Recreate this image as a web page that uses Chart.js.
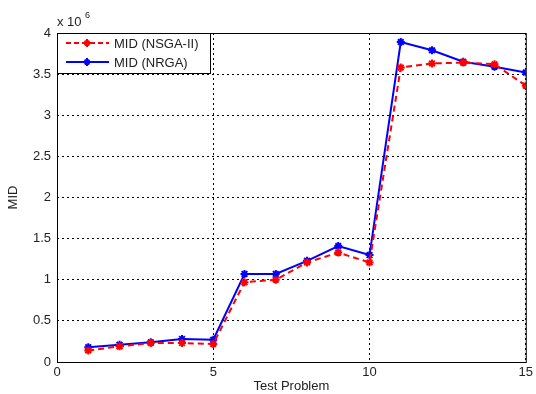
<!DOCTYPE html>
<html>
<head>
<meta charset="utf-8">
<script src="https://cdn.jsdelivr.net/npm/chart.js@4"></script>
<style>
  html, body { margin: 0; padding: 0; background: #fff; }
  #wrap { width: 536px; height: 394px; }
</style>
</head>
<body>
<div id="wrap"><canvas id="midChart" width="536" height="394"></canvas></div>
<script>
// values in units of 1e6
const problems = [1, 2, 3, 4, 5, 6, 7, 8, 9, 10, 11, 12, 13, 14, 15];
const midNsga = [0.14, 0.19, 0.23, 0.23, 0.22, 0.97, 1.00, 1.21, 1.33, 1.21, 3.58, 3.63, 3.64, 3.62, 3.36];
const midNrga = [0.18, 0.21, 0.24, 0.28, 0.27, 1.07, 1.07, 1.23, 1.41, 1.30, 3.89, 3.79, 3.65, 3.59, 3.52];
const xTicks = [0, 5, 10, 15];
const yTicks = [0, 0.5, 1, 1.5, 2, 2.5, 3, 3.5, 4];

const FONT = 'Liberation Sans, Arial, sans-serif';

function drawStar(ctx, x, y, r) {
    ctx.beginPath();
    ctx.moveTo(x - r, y); ctx.lineTo(x + r, y);
    ctx.moveTo(x, y - r); ctx.lineTo(x, y + r);
    const d = r * 0.6;
    ctx.moveTo(x - d, y - d); ctx.lineTo(x + d, y + d);
    ctx.moveTo(x - d, y + d); ctx.lineTo(x + d, y - d);
    ctx.stroke();
}

// frame, exponent label and legend box
const framePlugin = {
    id: 'frame',
    afterDraw(chart) {
        const { ctx, chartArea: a } = chart;
        ctx.save();
        ctx.strokeStyle = '#000';
        ctx.lineWidth = 1;
        ctx.strokeRect(a.left + 0.5, a.top + 0.5, a.right - a.left, a.bottom - a.top);

        ctx.fillStyle = '#222';
        ctx.font = '13px ' + FONT;
        ctx.textBaseline = 'alphabetic';
        ctx.fillText('x 10', a.left, a.top - 7);
        ctx.font = '9px ' + FONT;
        ctx.fillText('6', a.left + 28, a.top - 15);

        // legend
        const lx = a.left, ly = a.top, lw = 153, lh = 40;
        ctx.fillStyle = '#fff';
        ctx.fillRect(lx, ly, lw, lh);
        ctx.strokeStyle = '#000';
        ctx.strokeRect(lx + 0.5, ly + 0.5, lw, lh);
        const items = [
            { label: 'MID (NSGA-II)', color: '#ff0000', dash: [5, 3] },
            { label: 'MID (NRGA)', color: '#0000ff', dash: [] }
        ];
        items.forEach((it, i) => {
            const y = ly + 10 + i * 19;
            ctx.strokeStyle = it.color;
            ctx.lineWidth = 2;
            ctx.setLineDash(it.dash);
            ctx.beginPath();
            ctx.moveTo(lx + 9, y);
            ctx.lineTo(lx + 52, y);
            ctx.stroke();
            ctx.setLineDash([]);
            drawStar(ctx, lx + 30, y, 4);
            ctx.fillStyle = '#222';
            ctx.font = '13px ' + FONT;
            ctx.textBaseline = 'middle';
            ctx.fillText(it.label, lx + 57, y + 1);
        });
        ctx.restore();
    }
};

const ctxMid = document.getElementById('midChart').getContext('2d');
const midChart = new Chart(ctxMid, {
    type: 'line',
    data: {
        datasets: [{
            label: 'MID (NSGA-II)',
            data: problems.map((p, i) => ({ x: p, y: midNsga[i] })),
            borderColor: '#ff0000',
            backgroundColor: '#ff0000',
            borderWidth: 2,
            borderDash: [6, 4],
            pointStyle: 'star',
            pointRadius: 4,
            pointBorderWidth: 2,
            tension: 0
        }, {
            label: 'MID (NRGA)',
            data: problems.map((p, i) => ({ x: p, y: midNrga[i] })),
            borderColor: '#0000ff',
            backgroundColor: '#0000ff',
            borderWidth: 2,
            pointStyle: 'star',
            pointRadius: 4,
            pointBorderWidth: 2,
            tension: 0
        }]
    },
    options: {
        responsive: false,
        animation: false,
        layout: { padding: { top: 33, right: 7, left: 0, bottom: 0 } },
        plugins: {
            legend: { display: false },
            tooltip: { enabled: false }
        },
        scales: {
            x: {
                type: 'linear',
                min: 0,
                max: 15,
                afterBuildTicks(scale) { scale.ticks = xTicks.map(v => ({ value: v })); },
                afterFit(scale) { scale.height = 32; },
                ticks: { color: '#222', font: { family: FONT, size: 13 }, padding: 3, maxRotation: 0, callback: v => String(v) },
                grid: { color: '#000', drawTicks: false, lineWidth: 1 },
                border: { display: false, dash: [2, 3] },
                title: { display: true, text: 'Test Problem', color: '#222', font: { family: FONT, size: 13 }, padding: { top: 0, bottom: 0 } }
            },
            y: {
                min: 0,
                max: 4,
                afterBuildTicks(scale) { scale.ticks = yTicks.map(v => ({ value: v })); },
                afterFit(scale) { scale.width = 57; },
                ticks: { color: '#222', font: { family: FONT, size: 13 }, padding: 6, callback: v => String(v) },
                grid: { color: '#000', drawTicks: false, lineWidth: 1 },
                border: { display: false, dash: [2, 3] },
                title: { display: true, text: 'MID', color: '#222', font: { family: FONT, size: 13 }, padding: { top: 6, bottom: 0 } }
            }
        }
    },
    plugins: [framePlugin]
});
</script>
</body>
</html>
